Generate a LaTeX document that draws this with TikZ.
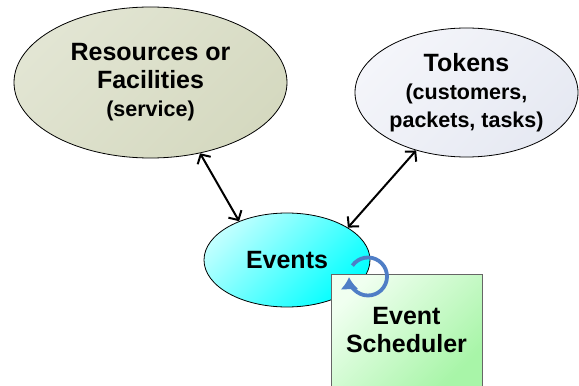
\documentclass[tikz,border=0pt]{standalone}
\usepackage{fontspec}
\setmainfont{Liberation Sans}
\usetikzlibrary{arrows.meta}
\usetikzlibrary{shapes.geometric}

\definecolor{resA}{HTML}{E2E5D3}
\definecolor{resB}{HTML}{D5D9C0}
\definecolor{tokA}{HTML}{F4F5FA}
\definecolor{tokB}{HTML}{E6E9F2}
\definecolor{evA}{HTML}{C0FFFF}
\definecolor{evB}{HTML}{00FFFF}
\definecolor{schA}{HTML}{F0FFF0}
\definecolor{schB}{HTML}{A8F5A8}
\definecolor{loopblue}{HTML}{4F7EC6}
\newcommand\subtxt{\fontsize{21.5}{24}\selectfont}

\begin{document}
\begin{tikzpicture}
			[x=1pt,y=1pt,
			every node/.style={font=\fontsize{25}{28}\selectfont\bfseries,align=center},
			blob/.style={ellipse,draw,line width=.8pt,inner sep=0pt},
			link/.style={{Straight Barb[length=7pt,width=15pt]}-{Straight Barb[length=7pt,width=15pt]},line width=2pt},
			loopy/.style={-{Latex[length=12pt,width=18pt]},line width=3.8pt,draw=loopblue}]
			\useasboundingbox (0,0) rectangle (579,386);
			\clip (0,0.8) rectangle (579,386);
			\node[blob,minimum width=273,minimum height=151,top color=resA,bottom color=resB,shading angle=45] (res) at (150.5,303.5) {Resources or\\Facilities\\\subtxt (service)};
			\node[blob,minimum width=223,minimum height=129,top color=tokA,bottom color=tokB,shading angle=45] (tok) at (466.5,293.5) {Tokens\\\subtxt (customers,\\\subtxt packets, tasks)};
			\node[blob,minimum width=166,minimum height=94,top color=evA,bottom color=evB,shading angle=45] (ev) at (287,126) {Events};
			\node[rectangle,draw=black!60,line width=.8pt,anchor=north,minimum width=151,minimum height=112,top color=schA,bottom color=schB,shading angle=45] (sched) at (406.5,112) {Event\\Scheduler};
			\coordinate (turn) at (368,109.5);
			
			\foreach \from/\to in 
			{res.-55/ev.141, tok.229/ev.28}
			\draw[link] (\from) -- (\to);
			\draw[loopy] ([shift={(145:19)}]turn) arc[start angle=145,end angle=-178,radius=19];
			\end{tikzpicture}
\end{document}
